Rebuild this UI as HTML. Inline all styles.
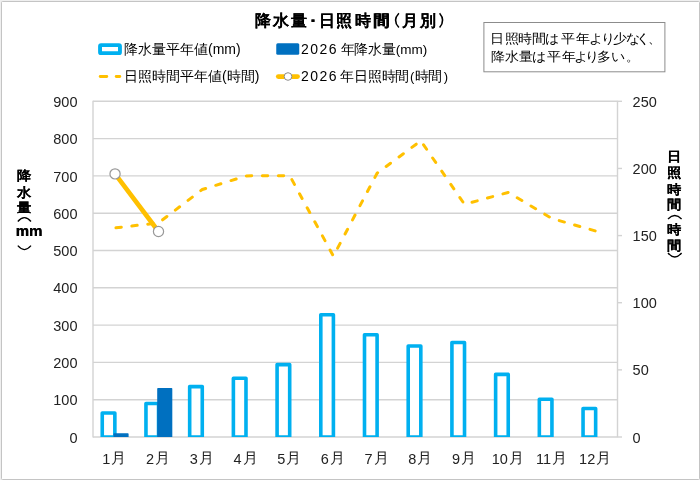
<!DOCTYPE html>
<html lang="ja"><head><meta charset="utf-8">
<style>
html,body{margin:0;padding:0;background:#fff;}
body{width:700px;height:480px;overflow:hidden;position:relative;font-family:"Liberation Sans",sans-serif;}
svg{position:absolute;left:0;top:0;}
.ax{font-size:14.5px;fill:#222;font-family:"Liberation Sans",sans-serif;}
.t{position:absolute;white-space:nowrap;color:#000;}
.n{position:absolute;font-size:13px;line-height:13px;width:13px;text-align:center;transform:scaleX(1.08);color:#000;}
.v{position:absolute;white-space:nowrap;color:#000;font-weight:bold;text-shadow:0.35px 0 0 #000;}
.w{position:absolute;left:0;top:0;width:700px;height:480px;will-change:transform;}
</style></head><body><div class="w">
<svg width="700" height="480" viewBox="0 0 700 480">
<rect x="0" y="0" width="700" height="480" fill="#efefef"/>
<rect x="1.5" y="1.5" width="698" height="478" rx="1" fill="#fff" stroke="#c4c4c4" stroke-width="1"/>
<line x1="93" y1="437.00" x2="617.5" y2="437.00" stroke="#d3d3d3" stroke-width="1.4"/>
<line x1="93" y1="399.70" x2="617.5" y2="399.70" stroke="#d3d3d3" stroke-width="1.4"/>
<line x1="93" y1="362.40" x2="617.5" y2="362.40" stroke="#d3d3d3" stroke-width="1.4"/>
<line x1="93" y1="325.10" x2="617.5" y2="325.10" stroke="#d3d3d3" stroke-width="1.4"/>
<line x1="93" y1="287.80" x2="617.5" y2="287.80" stroke="#d3d3d3" stroke-width="1.4"/>
<line x1="93" y1="250.50" x2="617.5" y2="250.50" stroke="#d3d3d3" stroke-width="1.4"/>
<line x1="93" y1="213.20" x2="617.5" y2="213.20" stroke="#d3d3d3" stroke-width="1.4"/>
<line x1="93" y1="175.90" x2="617.5" y2="175.90" stroke="#d3d3d3" stroke-width="1.4"/>
<line x1="93" y1="138.60" x2="617.5" y2="138.60" stroke="#d3d3d3" stroke-width="1.4"/>
<line x1="93" y1="101.30" x2="617.5" y2="101.30" stroke="#d3d3d3" stroke-width="1.4"/>
<line x1="93" y1="100.8" x2="93" y2="437.5" stroke="#d3d3d3" stroke-width="1.4"/>
<line x1="617.5" y1="100.8" x2="617.5" y2="437.5" stroke="#d3d3d3" stroke-width="1.4"/>
<line x1="617.5" y1="437.00" x2="622.0" y2="437.00" stroke="#d3d3d3" stroke-width="1.4"/>
<line x1="617.5" y1="369.86" x2="622.0" y2="369.86" stroke="#d3d3d3" stroke-width="1.4"/>
<line x1="617.5" y1="302.72" x2="622.0" y2="302.72" stroke="#d3d3d3" stroke-width="1.4"/>
<line x1="617.5" y1="235.58" x2="622.0" y2="235.58" stroke="#d3d3d3" stroke-width="1.4"/>
<line x1="617.5" y1="168.44" x2="622.0" y2="168.44" stroke="#d3d3d3" stroke-width="1.4"/>
<line x1="617.5" y1="101.30" x2="622.0" y2="101.30" stroke="#d3d3d3" stroke-width="1.4"/>
<clipPath id="pc"><rect x="0" y="0" width="700" height="437"/></clipPath><g clip-path="url(#pc)">
<rect x="102.25" y="413.00" width="12.60" height="24.00" fill="#fff" stroke="#00b0f0" stroke-width="3.6" stroke-linejoin="round"/>
<rect x="145.96" y="403.50" width="12.60" height="33.50" fill="#fff" stroke="#00b0f0" stroke-width="3.6" stroke-linejoin="round"/>
<rect x="189.67" y="386.60" width="12.60" height="50.40" fill="#fff" stroke="#00b0f0" stroke-width="3.6" stroke-linejoin="round"/>
<rect x="233.38" y="378.30" width="12.60" height="58.70" fill="#fff" stroke="#00b0f0" stroke-width="3.6" stroke-linejoin="round"/>
<rect x="277.09" y="364.60" width="12.60" height="72.40" fill="#fff" stroke="#00b0f0" stroke-width="3.6" stroke-linejoin="round"/>
<rect x="320.80" y="314.70" width="12.60" height="122.30" fill="#fff" stroke="#00b0f0" stroke-width="3.6" stroke-linejoin="round"/>
<rect x="364.50" y="334.80" width="12.60" height="102.20" fill="#fff" stroke="#00b0f0" stroke-width="3.6" stroke-linejoin="round"/>
<rect x="408.21" y="346.05" width="12.60" height="90.95" fill="#fff" stroke="#00b0f0" stroke-width="3.6" stroke-linejoin="round"/>
<rect x="451.92" y="342.55" width="12.60" height="94.45" fill="#fff" stroke="#00b0f0" stroke-width="3.6" stroke-linejoin="round"/>
<rect x="495.63" y="374.40" width="12.60" height="62.60" fill="#fff" stroke="#00b0f0" stroke-width="3.6" stroke-linejoin="round"/>
<rect x="539.34" y="399.20" width="12.60" height="37.80" fill="#fff" stroke="#00b0f0" stroke-width="3.6" stroke-linejoin="round"/>
<rect x="583.05" y="408.50" width="12.60" height="28.50" fill="#fff" stroke="#00b0f0" stroke-width="3.6" stroke-linejoin="round"/>
<rect x="114.25" y="434.05" width="13.6" height="3.70" fill="#0070c0" stroke="#0070c0" stroke-width="1.5" stroke-linejoin="round"/>
<rect x="157.96" y="388.85" width="13.6" height="48.90" fill="#0070c0" stroke="#0070c0" stroke-width="1.5" stroke-linejoin="round"/>
</g>
<polyline points="114.85,227.9 158.56,222.9 202.27,189.5 245.98,175.9 289.69,175.6 333.40,256.1 377.10,173.2 420.81,140.8 464.52,204.3 508.23,192.4 551.94,218.5 595.65,231.0" fill="none" stroke="#ffc000" stroke-width="3" stroke-dasharray="5.4 10.6" stroke-dashoffset="-1.1" stroke-linecap="round" stroke-linejoin="round"/>
<line x1="115.05" y1="173.9" x2="158.50" y2="231.5" stroke="#ffc000" stroke-width="4.6" stroke-linecap="round"/>
<circle cx="115.05" cy="173.9" r="5.1" fill="#fff" stroke="#999" stroke-width="1.2"/>
<circle cx="158.50" cy="231.5" r="5.1" fill="#fff" stroke="#999" stroke-width="1.2"/>
<text x="77.5" y="442.60" text-anchor="end" class="ax">0</text>
<text x="77.5" y="405.30" text-anchor="end" class="ax">100</text>
<text x="77.5" y="368.00" text-anchor="end" class="ax">200</text>
<text x="77.5" y="330.70" text-anchor="end" class="ax">300</text>
<text x="77.5" y="293.40" text-anchor="end" class="ax">400</text>
<text x="77.5" y="256.10" text-anchor="end" class="ax">500</text>
<text x="77.5" y="218.80" text-anchor="end" class="ax">600</text>
<text x="77.5" y="181.50" text-anchor="end" class="ax">700</text>
<text x="77.5" y="144.20" text-anchor="end" class="ax">800</text>
<text x="77.5" y="106.90" text-anchor="end" class="ax">900</text>
<text x="632.6" y="442.60" class="ax">0</text>
<text x="632.6" y="375.46" class="ax">50</text>
<text x="632.6" y="308.32" class="ax">100</text>
<text x="632.6" y="241.18" class="ax">150</text>
<text x="632.6" y="174.04" class="ax">200</text>
<text x="632.6" y="106.90" class="ax">250</text>
<text x="114.35" y="464" text-anchor="middle" class="ax">1<tspan dx="1" dy="-1" style="font-size:15px">月</tspan></text>
<text x="158.06" y="464" text-anchor="middle" class="ax">2<tspan dx="1" dy="-1" style="font-size:15px">月</tspan></text>
<text x="201.77" y="464" text-anchor="middle" class="ax">3<tspan dx="1" dy="-1" style="font-size:15px">月</tspan></text>
<text x="245.48" y="464" text-anchor="middle" class="ax">4<tspan dx="1" dy="-1" style="font-size:15px">月</tspan></text>
<text x="289.19" y="464" text-anchor="middle" class="ax">5<tspan dx="1" dy="-1" style="font-size:15px">月</tspan></text>
<text x="332.90" y="464" text-anchor="middle" class="ax">6<tspan dx="1" dy="-1" style="font-size:15px">月</tspan></text>
<text x="376.60" y="464" text-anchor="middle" class="ax">7<tspan dx="1" dy="-1" style="font-size:15px">月</tspan></text>
<text x="420.31" y="464" text-anchor="middle" class="ax">8<tspan dx="1" dy="-1" style="font-size:15px">月</tspan></text>
<text x="464.02" y="464" text-anchor="middle" class="ax">9<tspan dx="1" dy="-1" style="font-size:15px">月</tspan></text>
<text x="507.73" y="464" text-anchor="middle" class="ax">10<tspan dx="1" dy="-1" style="font-size:15px">月</tspan></text>
<text x="551.44" y="464" text-anchor="middle" class="ax">11<tspan dx="1" dy="-1" style="font-size:15px">月</tspan></text>
<text x="595.15" y="464" text-anchor="middle" class="ax">12<tspan dx="1" dy="-1" style="font-size:15px">月</tspan></text>
<rect x="311.3" y="19.2" width="3.4" height="2.9" rx="0.6" fill="#000"/>
<path d="M398.9,13.2 Q392.1,20.4 398.9,27.6" fill="none" stroke="#000" stroke-width="1.5"/>
<path d="M439.6,13.2 Q445.7,20.4 439.6,27.6" fill="none" stroke="#000" stroke-width="1.5"/>
<path d="M17.8,221.5 Q24.4,213.7 31.0,221.5" fill="none" stroke="#000" stroke-width="1.3"/>
<path d="M17.8,245.7 Q24.4,253.5 31.0,245.7" fill="none" stroke="#000" stroke-width="1.3"/>
<path d="M668.0,219.0 Q674.8,212.0 681.6,219.0" fill="none" stroke="#000" stroke-width="1.3"/>
<path d="M668.0,253.0 Q674.8,261.0 681.6,253.0" fill="none" stroke="#000" stroke-width="1.3"/>
<rect x="100.05" y="45.15" width="19.9" height="8" rx="1" fill="#fff" stroke="#00b0f0" stroke-width="3.9"/>
<rect x="276.25" y="43.25" width="23" height="11.5" rx="1.5" fill="#0070c0"/>
<line x1="100.2" y1="76.5" x2="106.8" y2="76.5" stroke="#ffc000" stroke-width="2.8" stroke-linecap="round"/>
<line x1="116.2" y1="76.5" x2="119.8" y2="76.5" stroke="#ffc000" stroke-width="2.8" stroke-linecap="round"/>
<line x1="278.3" y1="76.6" x2="297.5" y2="76.6" stroke="#ffc000" stroke-width="4.8" stroke-linecap="round"/>
<circle cx="288" cy="76.5" r="3.8" fill="#fff" stroke="#8c8c8c" stroke-width="1"/>
<rect x="483.9" y="22.5" width="181" height="49.3" fill="#fff" stroke="#8c8c8c" stroke-width="1"/>
</svg>
<div class="t" style="left:254.9px;top:12.5px;font-size:16px;line-height:16px;font-weight:bold;text-shadow:0.4px 0 0 #000">降</div>
<div class="t" style="left:272.6px;top:12.5px;font-size:16px;line-height:16px;font-weight:bold;text-shadow:0.4px 0 0 #000">水</div>
<div class="t" style="left:291.1px;top:12.5px;font-size:16px;line-height:16px;font-weight:bold;text-shadow:0.4px 0 0 #000">量</div>
<div class="t" style="left:319.1px;top:12.5px;font-size:16px;line-height:16px;font-weight:bold;text-shadow:0.4px 0 0 #000">日</div>
<div class="t" style="left:336.1px;top:12.5px;font-size:16px;line-height:16px;font-weight:bold;text-shadow:0.4px 0 0 #000">照</div>
<div class="t" style="left:354.7px;top:12.5px;font-size:16px;line-height:16px;font-weight:bold;text-shadow:0.4px 0 0 #000">時</div>
<div class="t" style="left:373.3px;top:12.5px;font-size:16px;line-height:16px;font-weight:bold;text-shadow:0.4px 0 0 #000">間</div>
<div class="t" style="left:401.9px;top:12.5px;font-size:16px;line-height:16px;font-weight:bold;text-shadow:0.4px 0 0 #000">月</div>
<div class="t" style="left:420px;top:12.5px;font-size:16px;line-height:16px;font-weight:bold;text-shadow:0.4px 0 0 #000">別</div>
<div class="t" style="left:124px;top:41px;font-size:14px;">降水量平年値(mm)</div>
<div class="t" style="left:300.9px;top:41px;font-size:14px;"><span style="letter-spacing:1.5px">2026</span><span style="margin-left:2.7px;letter-spacing:-0.25px">年降水量</span><span style="font-size:13.5px">(mm)</span></div>
<div class="t" style="left:124px;top:68px;font-size:14px;">日照時間平年値(時間)</div>
<div class="t" style="left:301px;top:68px;font-size:14px;"><span style="letter-spacing:1.5px">2026</span><span style="margin-left:2.1px;letter-spacing:-0.25px">年日照時間</span><span style="font-size:13px;margin-left:1.05px">(</span><span style="margin-left:0.3px;letter-spacing:-0.25px">時間</span><span style="font-size:13px;margin-left:1.6px">)</span></div>
<div class="n" style="left:490.80px;top:32.4px">日</div>
<div class="n" style="left:505.60px;top:32.4px">照</div>
<div class="n" style="left:519.40px;top:32.4px">時</div>
<div class="n" style="left:532.95px;top:32.4px">間</div>
<div class="n" style="left:546.40px;top:32.4px">は</div>
<div class="n" style="left:561.55px;top:32.4px">平</div>
<div class="n" style="left:576.70px;top:32.4px">年</div>
<div class="n" style="left:589.50px;top:32.4px">よ</div>
<div class="n" style="left:602.05px;top:32.4px">り</div>
<div class="n" style="left:613.95px;top:32.4px">少</div>
<div class="n" style="left:626.80px;top:32.4px">な</div>
<div class="n" style="left:637.40px;top:32.4px">く</div>
<div class="n" style="left:647.7px;top:32.4px;transform:none">、</div>
<div class="n" style="left:491.50px;top:50px">降</div>
<div class="n" style="left:505.80px;top:50px">水</div>
<div class="n" style="left:520.10px;top:50px">量</div>
<div class="n" style="left:532.95px;top:50px">は</div>
<div class="n" style="left:547.80px;top:50px">平</div>
<div class="n" style="left:562.65px;top:50px">年</div>
<div class="n" style="left:574.65px;top:50px">よ</div>
<div class="n" style="left:586.05px;top:50px">り</div>
<div class="n" style="left:597.50px;top:50px">多</div>
<div class="n" style="left:611.80px;top:50px">い</div>
<div class="n" style="left:625.9px;top:50px;transform:none">。</div>
<div class="v" style="left:17.3px;top:168.9px;font-size:13px;line-height:13px;transform:scaleX(1.1);transform-origin:0 0">降</div>
<div class="v" style="left:17.3px;top:185.7px;font-size:13px;line-height:13px;transform:scaleX(1.1);transform-origin:0 0">水</div>
<div class="v" style="left:17.3px;top:200.5px;font-size:13px;line-height:13px;transform:scaleX(1.1);transform-origin:0 0">量</div>
<div class="v" style="left:15.6px;top:223.3px;font-size:15px;line-height:15px">mm</div>
<div class="v" style="left:667.25px;top:150.25px;font-size:13px;line-height:13px;transform:scaleX(1.1);transform-origin:0 0">日</div>
<div class="v" style="left:667.25px;top:166.0px;font-size:13px;line-height:13px;transform:scaleX(1.1);transform-origin:0 0">照</div>
<div class="v" style="left:667.25px;top:182.5px;font-size:13px;line-height:13px;transform:scaleX(1.1);transform-origin:0 0">時</div>
<div class="v" style="left:667.25px;top:197.8px;font-size:13px;line-height:13px;transform:scaleX(1.1);transform-origin:0 0">間</div>
<div class="v" style="left:667.25px;top:222.5px;font-size:13px;line-height:13px;transform:scaleX(1.1);transform-origin:0 0">時</div>
<div class="v" style="left:667.25px;top:238.5px;font-size:13px;line-height:13px;transform:scaleX(1.1);transform-origin:0 0">間</div>
</div></body></html>
